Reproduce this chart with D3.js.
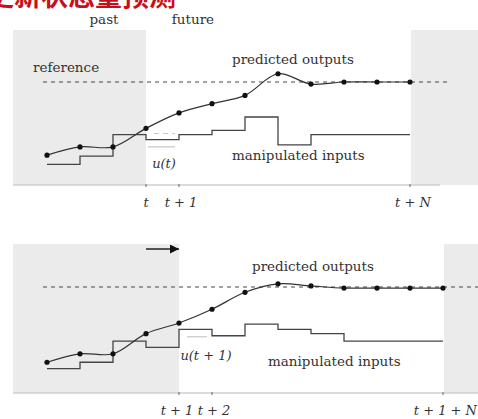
<!DOCTYPE html>
<html>
<head>
<meta charset="utf-8">
<script src="https://cdn.jsdelivr.net/npm/d3@7"></script>
<style>
  body { margin: 0; background: #fff; }
  text { font-family: "DejaVu Serif", "Liberation Serif", serif; fill: #333; }
</style>
</head>
<body>
<div id="chart"></div>
<script>
// time steps and values (reference = 1)
const steps = d3.range(13);
const topOutputs = [0.29, 0.37, 0.37, 0.55, 0.70, 0.79, 0.87, 1.08, 0.98, 1.0, 1.0, 1.0];
const topInputs = [0.20, 0.28, 0.49, 0.44, 0.49, 0.53, 0.66, 0.39, 0.49, 0.49, 0.49, 0.49];
const bottomOutputs = [0.29, 0.37, 0.37, 0.56, 0.66, 0.79, 0.95, 1.03, 1.01, 0.99, 0.99, 0.99, 0.99];
const bottomInputs = [0.23, 0.29, 0.49, 0.43, 0.60, 0.54, 0.65, 0.60, 0.56, 0.49, 0.49, 0.49, 0.49];
const reference = 1.0;
const topTicks = [{ i: 3, label: "t" }, { i: 4, label: "t + 1" }, { i: 11, label: "t + N" }];
const bottomTicks = [{ i: 4, label: "t + 1" }, { i: 5, label: "t + 2" }, { i: 12, label: "t + 1 + N" }];

const width = 478, height = 419;
const svg = d3.select("#chart").append("svg")
  .attr("width", width)
  .attr("height", height);

const x = d3.scaleLinear().domain([0, 12]).range([47, 443]);

// red caption cut off at the top
svg.append("text")
  .attr("x", -13)
  .attr("y", 6)
  .attr("font-size", "27px")
  .attr("font-weight", "bold")
  .style("fill", "#c8101a")
  .style("font-family", "'Noto Sans CJK SC'")
  .text("更新状态量预测");

function drawPanel(cfg) {
  const y = d3.scaleLinear().domain([0, 1]).range([cfg.base, cfg.ref]);
  const g = svg.append("g");

  // past / beyond horizon shading
  g.append("rect")
    .attr("x", 13).attr("y", cfg.top)
    .attr("width", x(cfg.now) - 13).attr("height", cfg.base - cfg.top)
    .attr("fill", "#ebebeb");
  g.append("rect")
    .attr("x", x(cfg.horizon) + 1).attr("y", cfg.top)
    .attr("width", width - x(cfg.horizon)).attr("height", cfg.base - cfg.top)
    .attr("fill", "#ebebeb");

  // time axis
  g.append("line")
    .attr("x1", 13).attr("x2", cfg.axisEnd)
    .attr("y1", cfg.base).attr("y2", cfg.base)
    .attr("stroke", "#cfcfcf").attr("stroke-width", 1.5);
  g.selectAll(".tick")
    .data(cfg.ticks)
    .enter().append("line")
    .attr("x1", d => x(d.i)).attr("x2", d => x(d.i))
    .attr("y1", cfg.base - 1).attr("y2", cfg.base + 2)
    .attr("stroke", "#666");

  // reference
  g.append("line")
    .attr("x1", 43).attr("x2", cfg.refEnd)
    .attr("y1", y(reference)).attr("y2", y(reference))
    .attr("stroke", "#444").attr("stroke-dasharray", "4,4");

  // manipulated inputs
  const stepLine = d3.line()
    .x((d, i) => x(i))
    .y(d => y(d))
    .curve(d3.curveStepAfter);
  g.append("path")
    .attr("d", stepLine(cfg.inputs))
    .attr("fill", "none")
    .attr("stroke", "#444").attr("stroke-width", 1.3);

  // predicted outputs
  const outLine = d3.line()
    .x((d, i) => x(steps[i]))
    .y(d => y(d))
    .curve(d3.curveCatmullRom);
  g.append("path")
    .attr("d", outLine(cfg.outputs))
    .attr("fill", "none")
    .attr("stroke", "#333").attr("stroke-width", 1.2);
  g.selectAll(".dot")
    .data(cfg.outputs)
    .enter().append("circle")
    .attr("cx", (d, i) => x(steps[i]))
    .attr("cy", d => y(d))
    .attr("r", 2.6)
    .attr("fill", "#111");

  // tick labels
  g.selectAll(".tlabel")
    .data(cfg.ticks)
    .enter().append("text")
    .attr("x", (d, k) => x(d.i) + cfg.tickShift[k])
    .attr("y", cfg.base + 22)
    .attr("text-anchor", (d, k) => cfg.tickAnchor[k])
    .attr("font-size", "13px")
    .style("font-style", "italic")
    .text(d => d.label);

  return { g, y };
}

// top panel
const topPanel = drawPanel({
  top: 30, base: 185, ref: 82, now: 3, horizon: 11, axisEnd: 440, refEnd: 447,
  inputs: topInputs, outputs: topOutputs, ticks: topTicks,
  tickShift: [0, 2, 3], tickAnchor: ["middle", "middle", "middle"]
});
topPanel.g.append("line")
  .attr("x1", x(3) + 2).attr("x2", x(4) - 4)
  .attr("y1", topPanel.y(0.37)).attr("y2", topPanel.y(0.37))
  .attr("stroke", "#bbb");
topPanel.g.append("line")
  .attr("x1", x(3) + 8).attr("x2", x(4) - 4)
  .attr("y1", topPanel.y(0.50)).attr("y2", topPanel.y(0.50))
  .attr("stroke", "#ccc").attr("stroke-dasharray", "5,4");

const labels = [
  { t: "past", x: 104, y: 24, a: "middle" },
  { t: "future", x: 193, y: 24, a: "middle" },
  { t: "reference", x: 33, y: 72, a: "start" },
  { t: "predicted outputs", x: 232, y: 64, a: "start" },
  { t: "manipulated inputs", x: 232, y: 160, a: "start" },
  { t: "predicted outputs", x: 252, y: 271, a: "start" },
  { t: "manipulated inputs", x: 268, y: 366, a: "start" }
];
svg.selectAll(".lbl")
  .data(labels)
  .enter().append("text")
  .attr("x", d => d.x).attr("y", d => d.y)
  .attr("text-anchor", d => d.a)
  .attr("font-size", "13.5px")
  .text(d => d.t);

svg.append("text")
  .attr("x", 164).attr("y", 168)
  .attr("text-anchor", "middle")
  .attr("font-size", "13px")
  .style("font-style", "italic")
  .text("u(t)");

// bottom panel
const bottomPanel = drawPanel({
  top: 244, base: 393, ref: 287, now: 4, horizon: 12, axisEnd: 478, refEnd: 478,
  inputs: bottomInputs, outputs: bottomOutputs, ticks: bottomTicks,
  tickShift: [-2, 2, 34], tickAnchor: ["middle", "middle", "end"]
});
bottomPanel.g.append("line")
  .attr("x1", x(4) + 8).attr("x2", x(5) - 5)
  .attr("y1", bottomPanel.y(0.53)).attr("y2", bottomPanel.y(0.53))
  .attr("stroke", "#bbb");

svg.append("text")
  .attr("x", 206).attr("y", 360)
  .attr("text-anchor", "middle")
  .attr("font-size", "13px")
  .style("font-style", "italic")
  .text("u(t + 1)");

// shift arrow
svg.append("defs").append("marker")
  .attr("id", "arrow")
  .attr("viewBox", "0 0 10 10")
  .attr("refX", 10).attr("refY", 5)
  .attr("markerWidth", 6).attr("markerHeight", 6)
  .attr("orient", "auto")
  .append("path")
  .attr("d", "M0,0L10,5L0,10z")
  .attr("fill", "#111");
svg.append("line")
  .attr("x1", x(3)).attr("x2", x(4))
  .attr("y1", 249).attr("y2", 249)
  .attr("stroke", "#222").attr("stroke-width", 1.5)
  .attr("marker-end", "url(#arrow)");
</script>
</body>
</html>
